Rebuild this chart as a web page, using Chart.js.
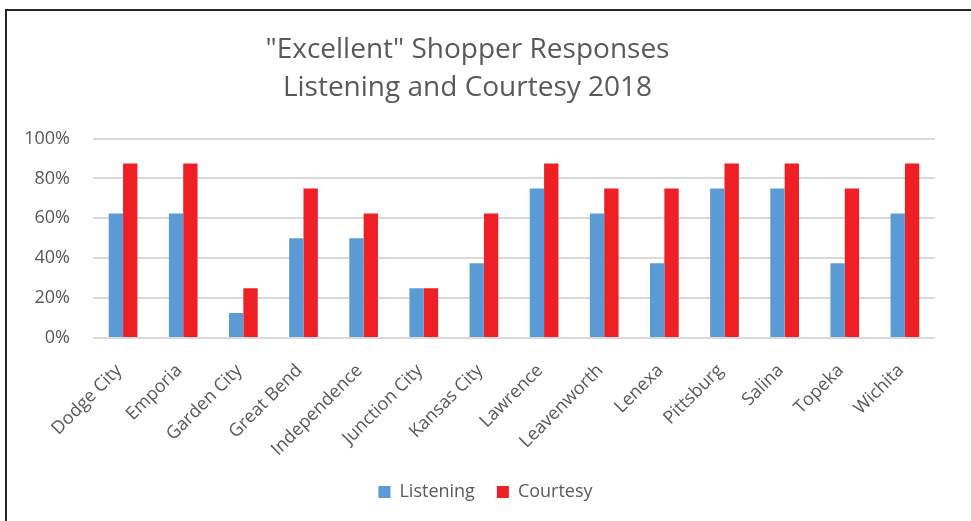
<!DOCTYPE html>
<html>
<head>
<meta charset="utf-8">
<script src="https://cdn.jsdelivr.net/npm/chart.js@4"></script>
<style>
  html, body { margin: 0; padding: 0; background: #fff; overflow: hidden; }
  #wrap { position: relative; width: 971px; height: 521px; }
  #frame { position: absolute; left: 5px; top: 9px; width: 1000px; height: 600px;
           border-left: 2px solid #262626; border-top: 2px solid #262626; }
  #chart { position: absolute; left: 0; top: 0; }
</style>
</head>
<body>
<div id="wrap">
  <div id="frame"></div>
  <canvas id="chart" width="971" height="521"></canvas>
</div>
<script>
// shopper survey results per city, share of "Excellent" answers
var cities = ['Dodge City', 'Emporia', 'Garden City', 'Great Bend', 'Independence', 'Junction City',
  'Kansas City', 'Lawrence', 'Leavenworth', 'Lenexa', 'Pittsburg', 'Salina', 'Topeka', 'Wichita'];
var listening = [62.5, 62.5, 12.5, 50, 50, 25, 37.5, 75, 62.5, 37.5, 75, 75, 37.5, 62.5];
var courtesy = [87.5, 87.5, 25, 75, 62.5, 25, 62.5, 87.5, 75, 75, 87.5, 87.5, 75, 87.5];
var yTicks = [0, 20, 40, 60, 80, 100];

var textColor = '#595959';
var fontFamily = "'Open Sans', sans-serif";

// center the legend on the whole canvas, not just the padded area
var legendCenter = {
  id: 'legendCenter',
  afterLayout: function (chart) {
    chart.legend.left = 0;
    chart.legend.right = chart.width;
  }
};

new Chart('chart', {
  type: 'bar',
  data: {
    labels: cities,
    datasets: [
      { label: 'Listening', data: listening, backgroundColor: '#5B9BD5' },
      { label: 'Courtesy', data: courtesy, backgroundColor: '#EE1F25' }
    ]
  },
  options: {
    responsive: false,
    animation: false,
    layout: { padding: { left: 0, right: 36, top: 0, bottom: 10 } },
    datasets: { bar: { categoryPercentage: 0.477, barPercentage: 1 } },
    plugins: {
      title: {
        display: true,
        text: ['"Excellent" Shopper Responses', 'Listening and Courtesy 2018'],
        color: textColor,
        font: { family: fontFamily, size: 28, weight: 'normal', lineHeight: 1.35 },
        padding: { top: 31, bottom: 32 }
      },
      legend: {
        position: 'bottom',
        labels: {
          color: textColor,
          font: { family: fontFamily, size: 18 },
          boxWidth: 12, boxHeight: 12, padding: 22
        }
      },
      tooltip: { enabled: false }
    },
    scales: {
      x: {
        grid: { display: false },
        border: { display: false },
        ticks: {
          color: textColor, font: { family: fontFamily, size: 18 },
          minRotation: 45, maxRotation: 45, padding: 14, labelOffset: -4
        },
        afterFit: function (s) { s.height = 123; }
      },
      y: {
        min: 0, max: 100,
        afterBuildTicks: function (s) { s.ticks = yTicks.map(function (v) { return { value: v }; }); },
        grid: { color: '#D9D9D9', lineWidth: 2, drawTicks: false },
        border: { display: false },
        ticks: {
          color: textColor, font: { family: fontFamily, size: 18 }, padding: 23,
          callback: function (v) { return v + '%'; }
        },
        afterFit: function (s) { s.width = 93; }
      }
    }
  },
  plugins: [legendCenter]
});
</script>
</body>
</html>
